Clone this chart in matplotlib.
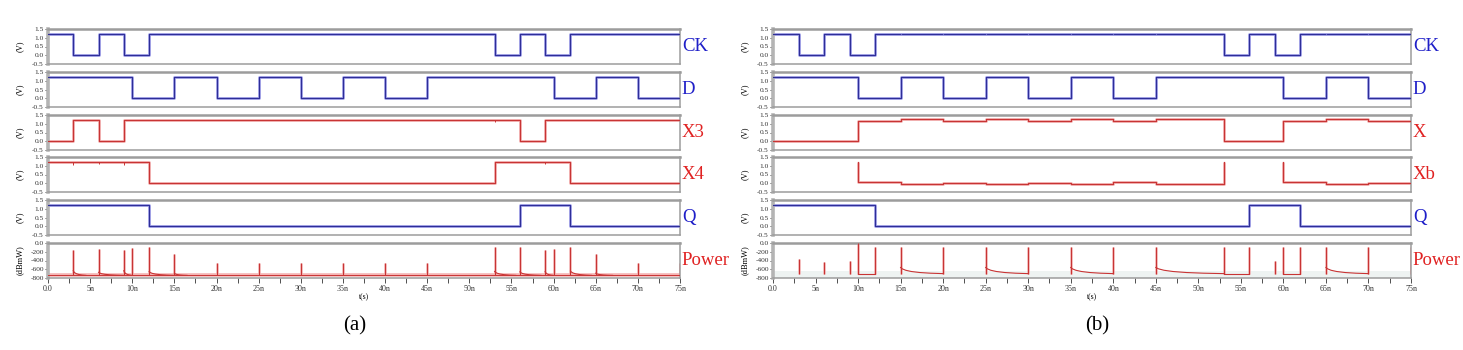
import numpy as np
import matplotlib
matplotlib.use("Agg")
import matplotlib.pyplot as plt

T_END = 75
SERIF = ["Liberation Serif", "DejaVu Serif"]

# ---------------- Panel (a) data ----------------
a_ck_t = [0, 3, 6, 9, 12, 53, 56, 59, 62]
a_ck_v = [1.2, 0, 1.2, 0, 1.2, 0, 1.2, 0, 1.2]
a_d_t = [0, 10, 15, 20, 25, 30, 35, 40, 45, 60, 65, 70]
a_d_v = [1.2, 0, 1.2, 0, 1.2, 0, 1.2, 0, 1.2, 0, 1.2, 0]
a_x3_t = [0, 3, 6, 9, 56, 59]
a_x3_v = [0, 1.2, 0, 1.2, 0, 1.2]
a_x4_t = [0, 12, 53, 62]
a_x4_v = [1.2, 0, 1.2, 0]
a_q_t = [0, 12, 56, 62]
a_q_v = [1.2, 0, 1.2, 0]
a_x3_glitch_t = [53, 59]
a_x3_glitch_v = [1.08, 1.12]
a_x4_glitch_t = [3, 6, 9, 59]
a_x4_glitch_v = [1.05, 1.12, 1.05, 1.1]

a_pw_base = -740
a_pw_spike_t = [3, 6, 9, 10, 12, 15, 20, 25, 30, 35, 40, 45, 53, 56, 59, 60, 62, 65, 70, 75]
a_pw_spike_v = [-160, -130, -160, -115, -90, -245, -450, -450, -450, -450, -450, -450,
                -100, -100, -160, -130, -100, -240, -450, -450]
a_pw_tail_t = [3, 6, 9, 12, 15, 53, 56, 59, 62, 65]
a_pw_tail_v = [-632, -670, -632, -655, -690, -650, -660, -650, -640, -690]
a_pw_tail_len = [1.5, 3.0, 1.0, 3.0, 1.5, 2.5, 2.5, 1.0, 2.5, 2.0]

# ---------------- Panel (b) data ----------------
b_ck_t = [0, 3, 6, 9, 12, 53, 56, 59, 62]
b_ck_v = [1.2, 0, 1.2, 0, 1.2, 0, 1.2, 0, 1.2]
b_ck_glitch_t = [15, 20, 25, 30, 35, 40, 45, 65, 70]
b_ck_glitch_v = [1.26, 1.26, 1.26, 1.26, 1.26, 1.26, 1.26, 1.26, 1.26]
b_d_t = [0, 10, 15, 20, 25, 30, 35, 40, 45, 60, 65, 70]
b_d_v = [1.2, 0, 1.2, 0, 1.2, 0, 1.2, 0, 1.2, 0, 1.2, 0]
b_x_t = [0, 10, 15, 20, 25, 30, 35, 40, 45, 49, 53, 60, 65, 70]
b_x_v = [0, 1.18, 1.3, 1.18, 1.3, 1.18, 1.3, 1.18, 1.3, 1.25, 0, 1.18, 1.3, 1.18]
b_xb_t = [0, 10, 15, 20, 25, 30, 35, 40, 45, 53, 60, 65, 70]
b_xb_v = [np.nan, 0.06, -0.07, 0.03, -0.07, 0.03, -0.07, 0.05, -0.05, np.nan, 0.06, -0.07, 0.03]
b_xb_edge = 1.22
b_q_t = [0, 12, 56, 62]
b_q_v = [1.2, 0.03, 1.2, 0.03]

b_pw_spike_t = [3, 6, 9, 10, 12, 15, 20, 25, 30, 35, 40, 45, 53, 56, 59, 60, 62, 65, 70, 75]
b_pw_spike_v = [-370, -430, -400, 0, -100, -100, -100, -100, -100, -100, -100, -100,
                -100, -100, -400, -100, -100, -100, -100, -100]
b_pw_spike_bottom = -715
b_pw_flat_t0 = [10, 53, 60]
b_pw_flat_t1 = [12, 56, 62]
b_pw_flat_v = -705
b_pw_tail_t0 = [15, 25, 35, 45, 65]
b_pw_tail_t1 = [20, 30, 40, 53, 70]
b_pw_tail_start = -560
b_pw_tail_end = -700

# decay shape of tails (fraction of tail length -> fraction of height)
tail_shape_x = [0, 0.04, 0.12, 0.25, 0.45, 0.7, 1.0]
tail_shape_f = [1.0, 0.78, 0.55, 0.35, 0.18, 0.07, 0.0]

BLUE, BLUE_H = "#2e2e98", "#a4a4ea"
RED, RED_H = "#c83434", "#f4b4b4"

W, H = 1463, 350
fig = plt.figure(figsize=(W / 100, H / 100), dpi=100)
tops = [29, 72, 115, 157, 200, 243]
ax_h = 35


def step_xy(times, levels, edge=None):
    xs, ys = [], []
    ends = list(times[1:]) + [T_END]
    for t0, t1, v in zip(times, ends, levels):
        if np.isnan(v):
            xs += [t0, t0, t1, t1]
            ys += [edge, np.nan, np.nan, edge]
        else:
            xs += [t0, t1]
            ys += [v, v]
    return xs, ys


def wave(ax, x, y, col, halo):
    ax.plot(x, y, color=halo, lw=2.0, solid_capstyle="butt", zorder=2)
    ax.plot(x, y, color=col, lw=0.85, zorder=3)


def style(ax, power=False, bottom=False):
    ax.set_xlim(0, T_END)
    for s in ["top", "bottom", "right"]:
        ax.spines[s].set_color("#9c9c9c")
        ax.spines[s].set_linewidth(1.1)
    ax.spines["top"].set_linewidth(1.8)
    ax.spines["left"].set_color("#b4b4b4")
    ax.spines["left"].set_linewidth(2.6)
    if power:
        ax.set_ylim(-800, 0)
        ax.set_yticks([0, -200, -400, -600, -800])
        ax.set_yticklabels(["0.0", "-200", "-400", "-600", "-800"])
        ax.set_ylabel("(dBmW)", fontsize=6, family=SERIF)
    else:
        ax.set_ylim(-0.5, 1.5)
        ax.set_yticks([1.5, 1.0, 0.5, 0.0, -0.5])
        ax.set_yticklabels(["1.5", "1.0", "0.5", "0.0", "-0.5"])
        ax.set_ylabel("(V)", fontsize=6, family=SERIF)
    ax.yaxis.set_label_coords(-0.038, 0.5)
    ax.tick_params(axis="y", labelsize=5.3, length=2, width=0.6, pad=1, colors="#333333")
    for lab in ax.get_yticklabels():
        lab.set_family(SERIF)
    if bottom:
        ax.set_xticks(np.arange(0, 76, 2.5))
        labs = []
        for v in np.arange(0, 76, 2.5):
            if v == 0:
                labs.append("0.0")
            elif v % 5 == 0:
                labs.append(f"{int(v)}n")
            else:
                labs.append("")
        ax.set_xticklabels(labs)
        ax.tick_params(axis="x", labelsize=5.8, length=3.5, width=0.6, pad=1.5, colors="#333333")
        for lab in ax.get_xticklabels():
            lab.set_family(SERIF)
        ax.set_xlabel("t(s)", fontsize=5.5, family=SERIF, labelpad=0.5)
    else:
        ax.set_xticks([])


def make_axes(left_px, right_px):
    axes = []
    for tp in tops:
        ax = fig.add_axes([left_px / W, 1 - (tp + ax_h) / H, (right_px - left_px) / W, ax_h / H])
        axes.append(ax)
    return axes


def right_label(ax, text, col):
    ax.text(1.003, 0.5, text, transform=ax.transAxes, color=col, fontsize=13.5,
            family=SERIF, ha="left", va="center")


def tail_curve(t0, length, start, end):
    xs = [t0 + f * length for f in tail_shape_x]
    ys = [end + f * (start - end) for f in tail_shape_f]
    return xs, ys


# ---------------- Panel (a) ----------------
axa = make_axes(48, 680)
sigs_a = [(a_ck_t, a_ck_v, BLUE, BLUE_H, "CK"), (a_d_t, a_d_v, BLUE, BLUE_H, "D"),
          (a_x3_t, a_x3_v, RED, RED_H, "X3"), (a_x4_t, a_x4_v, RED, RED_H, "X4"),
          (a_q_t, a_q_v, BLUE, BLUE_H, "Q")]
for ax, (t, v, c, h, name) in zip(axa, sigs_a):
    x, y = step_xy(t, v)
    wave(ax, x, y, c, h)
    style(ax)
    right_label(ax, name, "#1f1fc8" if c == BLUE else "#e02222")
axa[2].vlines(a_x3_glitch_t, a_x3_glitch_v, 1.2, color=RED, lw=0.7, zorder=3)
axa[3].vlines(a_x4_glitch_t, a_x4_glitch_v, 1.2, color=RED, lw=0.7, zorder=3)

axp = axa[5]
axp.plot([0, T_END], [a_pw_base, a_pw_base], color=RED_H, lw=2.6, zorder=2)
axp.plot([0, T_END], [a_pw_base, a_pw_base], color=RED, lw=0.7, zorder=3)
for t0, st, ln in zip(a_pw_tail_t, a_pw_tail_v, a_pw_tail_len):
    xs, ys = tail_curve(t0, ln, st, a_pw_base)
    axp.plot(xs, ys, color=RED, lw=0.8, zorder=3)
axp.vlines(a_pw_spike_t, a_pw_base, a_pw_spike_v, color=RED_H, lw=1.8, zorder=2)
axp.vlines(a_pw_spike_t, a_pw_base, a_pw_spike_v, color=RED, lw=0.8, zorder=3)
style(axp, power=True, bottom=True)
right_label(axp, "Power", "#e02222")

# ---------------- Panel (b) ----------------
axb = make_axes(773, 1411)
sigs_b = [(b_ck_t, b_ck_v, BLUE, BLUE_H, "CK", None), (b_d_t, b_d_v, BLUE, BLUE_H, "D", None),
          (b_x_t, b_x_v, RED, RED_H, "X", None), (b_xb_t, b_xb_v, RED, RED_H, "Xb", b_xb_edge),
          (b_q_t, b_q_v, BLUE, BLUE_H, "Q", None)]
for ax, (t, v, c, h, name, edge) in zip(axb, sigs_b):
    x, y = step_xy(t, v, edge)
    wave(ax, x, y, c, h)
    style(ax)
    right_label(ax, name, "#1f1fc8" if c == BLUE else "#e02222")
axb[0].vlines(b_ck_glitch_t, 1.2, b_ck_glitch_v, color=BLUE_H, lw=0.8, zorder=3)

axq = axb[5]
axq.axhspan(-800, -640, color="#eef3f2", zorder=0, lw=0)
for t0, t1 in zip(b_pw_flat_t0, b_pw_flat_t1):
    axq.plot([t0, t1], [b_pw_flat_v, b_pw_flat_v], color=RED, lw=0.8, zorder=3)
for t0, t1 in zip(b_pw_tail_t0, b_pw_tail_t1):
    xs, ys = tail_curve(t0, t1 - t0, b_pw_tail_start, b_pw_tail_end)
    axq.plot(xs, ys, color=RED, lw=0.8, zorder=3)
axq.vlines(b_pw_spike_t, b_pw_spike_bottom, b_pw_spike_v, color=RED_H, lw=1.8, zorder=2)
axq.vlines(b_pw_spike_t, b_pw_spike_bottom, b_pw_spike_v, color=RED, lw=0.8, zorder=3)
style(axq, power=True, bottom=True)
right_label(axq, "Power", "#e02222")

# captions
fig.text(355 / W, 1 - 326 / H, "(a)", fontsize=15, family=SERIF, ha="center", va="center")
fig.text(1097 / W, 1 - 326 / H, "(b)", fontsize=15, family=SERIF, ha="center", va="center")

fig.savefig("out.png", dpi=100)
